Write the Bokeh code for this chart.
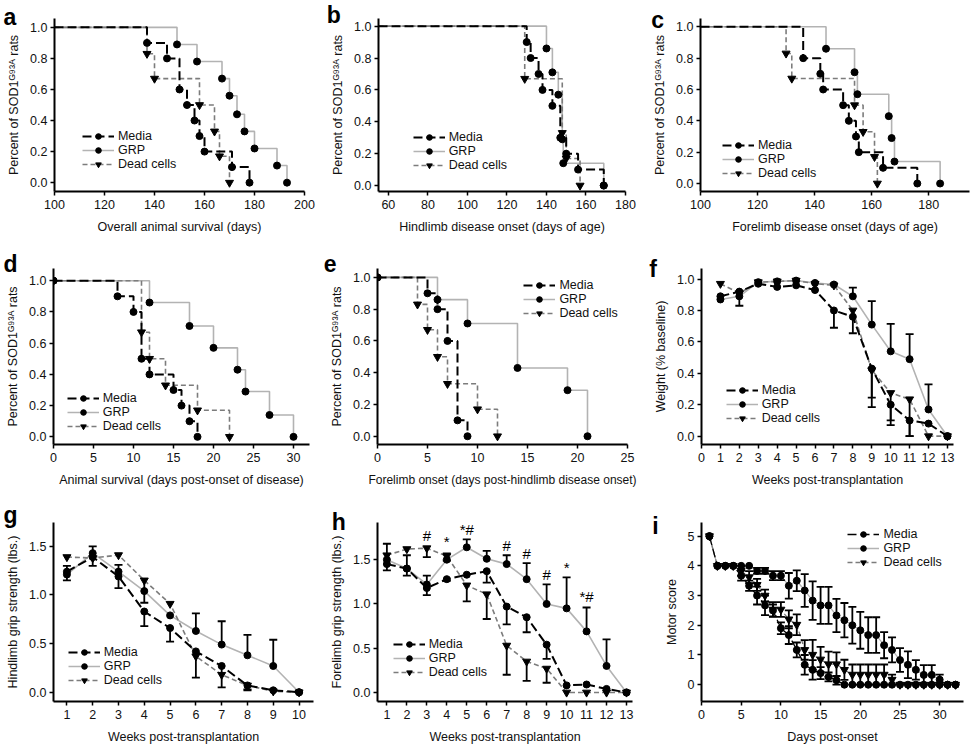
from bokeh.plotting import figure
from bokeh.models import (Range1d, FixedTicker, PrintfTickFormatter, Legend, LegendItem,
                          Whisker, TeeHead, ColumnDataSource, Title)
from bokeh.layouts import row, column
from bokeh.embed import file_html
from bokeh.resources import INLINE
from bokeh.core.properties import value

# ---------------- data ----------------
a_start = 100
a_media_t = [137, 145, 150, 153, 156, 158, 160, 171, 178]
a_media_s = [0.9, 0.8, 0.6, 0.5, 0.4, 0.3, 0.2, 0.1, 0.0]
a_grp_t = [149, 157, 167, 170, 173, 176, 180, 189, 193]
a_grp_s = [0.89, 0.78, 0.67, 0.56, 0.44, 0.33, 0.22, 0.11, 0.0]
a_dead_t = [137, 140, 158, 164, 166, 170]
a_dead_s = [0.83, 0.67, 0.5, 0.33, 0.17, 0.0]

b_start = 55
b_media_t = [130, 132, 136, 138, 143, 147, 150, 156, 169]
b_media_s = [0.9, 0.8, 0.7, 0.6, 0.5, 0.3, 0.2, 0.1, 0.0]
b_grp_t = [140, 143, 146, 148, 148.5, 169]
b_grp_s = [0.86, 0.71, 0.57, 0.29, 0.14, 0.0]
b_dead_t = [129, 148, 150, 157]
b_dead_s = [0.67, 0.33, 0.17, 0.0]

c_start = 100
c_media_t = [136, 142, 143, 150, 152, 154.5, 155.5, 164, 176]
c_media_s = [0.8, 0.7, 0.6, 0.5, 0.4, 0.3, 0.2, 0.1, 0.0]
c_grp_t = [144, 154, 155, 166, 167, 168, 184]
c_grp_s = [0.86, 0.71, 0.57, 0.43, 0.29, 0.14, 0.0]
c_dead_t = [130, 132, 154, 157, 161, 162]
c_dead_s = [0.83, 0.67, 0.5, 0.33, 0.17, 0.0]

d_start = 0
d_media_t = [8, 10, 11, 12, 15, 16, 17, 18]
d_media_s = [0.9, 0.8, 0.5, 0.4, 0.3, 0.2, 0.1, 0.0]
d_grp_t = [12, 17, 20, 23, 24, 27, 30]
d_grp_s = [0.86, 0.71, 0.57, 0.43, 0.29, 0.14, 0.0]
d_dead_t = [11, 12, 14, 18, 22]
d_dead_s = [0.67, 0.5, 0.33, 0.17, 0.0]

e_start = 0
e_media_t = [5, 6, 7, 8, 9]
e_media_s = [0.9, 0.8, 0.6, 0.1, 0.0]
e_grp_t = [6, 9, 14, 19, 21]
e_grp_s = [0.86, 0.71, 0.43, 0.29, 0.0]
e_dead_t = [4, 5, 6, 7, 10, 12]
e_dead_s = [0.83, 0.67, 0.5, 0.33, 0.17, 0.0]

f_weeks = [1, 2, 3, 4, 5, 6, 7, 8, 9, 10, 11, 12, 13]
f_media = [0.89, 0.92, 0.97, 0.95, 0.96, 0.93, 0.80, 0.76, 0.43, 0.20, 0.10, 0.08, 0.0]
f_media_err = [0, 0.09, 0, 0, 0, 0, 0.11, 0.105, 0.185, 0.10, 0.10, 0, 0]
f_grp = [0.87, 0.89, 0.98, 0.985, 0.99, 0.975, 0.965, 0.89, 0.71, 0.54, 0.49, 0.17, 0.0]
f_grp_err = [0, 0, 0, 0, 0, 0, 0, 0.055, 0.15, 0.175, 0.16, 0.16, 0]
f_dead = [0.97, 0.91, 0.98, 0.985, 0.99, 0.97, 0.96, 0.80, 0.42, 0.275, 0.235, 0.0, 0.0]
f_dead_err = [0, 0, 0, 0, 0, 0, 0, 0, 0.235, 0.205, 0.235, 0, 0]

g_weeks = [1, 2, 3, 4, 5, 6, 7, 8, 9, 10]
g_media = [1.24, 1.39, 1.19, 0.83, 0.66, 0.42, 0.27, 0.07, 0.02, 0.0]
g_media_err = [0.09, 0.09, 0.12, 0.15, 0.14, 0.27, 0.22, 0.05, 0, 0]
g_grp = [1.21, 1.43, 1.24, 1.04, 0.79, 0.63, 0.49, 0.38, 0.27, 0.0]
g_grp_err = [0.09, 0.07, 0.07, 0, 0, 0.18, 0.24, 0.21, 0.27, 0]
g_dead = [1.39, 1.38, 1.41, 1.15, 0.91, 0.37, 0.18, 0.07, 0.01, 0.0]
g_dead_err = [0, 0, 0, 0.23, 0, 0, 0, 0.04, 0, 0]

h_weeks = [1, 2, 3, 4, 5, 6, 7, 8, 9, 10, 11, 12, 13]
h_media = [1.45, 1.40, 1.18, 1.28, 1.33, 1.37, 0.97, 0.85, 0.54, 0.08, 0.09, 0.04, 0.0]
h_media_err = [0.07, 0.08, 0.08, 0.02, 0, 0.13, 0.20, 0.17, 0.16, 0, 0, 0, 0]
h_grp = [1.50, 1.40, 1.22, 1.50, 1.64, 1.51, 1.45, 1.28, 1.00, 0.95, 0.69, 0.30, 0.0]
h_grp_err = [0.18, 0.15, 0.10, 0.07, 0.09, 0.09, 0.10, 0.18, 0.22, 0.35, 0.27, 0.30, 0]
h_dead = [1.55, 1.62, 1.63, 1.54, 1.21, 1.11, 0.53, 0.35, 0.27, 0.0, 0.0, 0.0, 0.0]
h_dead_err = [0, 0, 0.10, 0.05, 0.18, 0.28, 0.33, 0.22, 0.16, 0, 0, 0, 0]
h_sig_week = [3, 4, 5, 7, 8, 9, 10, 11]
h_sig_y = [1.775, 1.70, 1.84, 1.665, 1.566, 1.33, 1.41, 1.08]
h_sig_text = ["#", "*", "*#", "#", "#", "#", "*", "*#"]

i_days = list(range(1, 33))
i_media = [5, 4, 4, 4, 3.67, 3.33, 3.0, 2.67, 2.5, 1.9, 1.67, 1.17, 0.67, 0.5, 0.39, 0.26,
           0.15, 0, 0, 0, 0, 0, 0, 0, 0, 0, 0, 0, 0, 0, 0, 0]
i_media_err = [0, 0, 0, 0, 0.17, 0.17, 0.3, 0.33, 0.2, 0.2, 0.3, 0.25, 0.33, 0.33, 0.2, 0.15,
               0.15, 0, 0, 0, 0, 0, 0, 0, 0, 0, 0, 0, 0, 0, 0, 0]
i_grp = [5, 4, 4, 4, 4, 4, 3.83, 3.83, 3.67, 3.67, 3.33, 3.5, 3.17, 2.83, 2.67, 2.67, 2.33,
         2.17, 2.0, 1.83, 1.67, 1.67, 1.33, 1.17, 0.83, 0.67, 0.5, 0.33, 0.33, 0.17, 0, 0]
i_grp_err = [0, 0, 0, 0, 0, 0, 0.1, 0.1, 0.15, 0.15, 0.43, 0.35, 0.55, 0.65, 0.62, 0.62, 0.56,
             0.58, 0.62, 0.62, 0.6, 0.6, 0.44, 0.42, 0.4, 0.45, 0.33, 0.33, 0.33, 0.17, 0, 0]
i_dead = [5, 4, 4, 4, 3.83, 3.62, 3.36, 3.0, 2.53, 2.53, 2.2, 2.02, 1.17, 1.01, 0.85, 0.69,
          0.69, 0.5, 0.34, 0.34, 0.34, 0.34, 0.34, 0.17, 0, 0, 0, 0, 0, 0, 0, 0]
i_dead_err = [0, 0, 0, 0, 0.17, 0.2, 0.2, 0.2, 0.25, 0.25, 0.3, 0.35, 0.33, 0.5, 0.42, 0.42,
              0.4, 0.34, 0.34, 0.34, 0.34, 0.34, 0.34, 0.17, 0, 0, 0, 0, 0, 0, 0, 0]

NAMES = ["Media", "GRP", "Dead cells"]
SOD_LABEL = "Percent of SOD1\u1d33\u2079\u00b3\u1d2c rats"
WEEKS_LABEL = "Weeks post-transplantation"

# ---------------- styling / layout ----------------
FONT = "Liberation Sans"
TOTAL_W = 973
TOTAL_H = 751
SX = TOTAL_W / 975
SY = TOTAL_H / 753
COLS = [0, round(320 * SX), round(645 * SX), TOTAL_W]
ROWS = [0, round(245 * SY), round(495 * SY), TOTAL_H]
LETTER_PX = 23
ST = {
    "Media": dict(color="black", width=2, dash="9 4"),
    "GRP": dict(color="#b3b3b3", width=1.6, dash="solid"),
    "Dead cells": dict(color="#7c7c7c", width=1.6, dash="5 3"),
}
MK = {"Media": "circle", "GRP": "circle", "Dead cells": "inverted_triangle"}


def mx(X):
    return X * SX


def my(Y):
    return Y * SY


def base_fig(ci, ri, frame, xr, yr, xticks, yticks, yfmt, xlabel, ylabel, letter, lpos,
             xlabel_size="12.5px"):
    L, R, T, B = frame
    x0 = COLS[ci]
    w = COLS[ci + 1] - x0
    y0 = ROWS[ri]
    h = ROWS[ri + 1] - y0
    bl = round(mx(L) - x0)
    bt = round(my(T) - y0)
    p = figure(width=w, height=h, x_range=Range1d(*xr), y_range=Range1d(*yr),
               output_backend="svg", toolbar_location=None,
               min_border_left=bl, min_border_right=round(x0 + w - mx(R)),
               min_border_top=bt, min_border_bottom=round(y0 + h - my(B)))
    p.xgrid.visible = False
    p.ygrid.visible = False
    p.outline_line_color = None
    for ax in (p.xaxis[0], p.yaxis[0]):
        ax.axis_line_width = 2
        ax.axis_line_color = "black"
        ax.major_tick_in = 0
        ax.major_tick_out = 4
        ax.major_tick_line_width = 1.5
        ax.major_tick_line_color = "black"
        ax.minor_tick_line_color = None
        ax.major_label_text_font = FONT
        ax.major_label_text_font_size = "12.5px"
        ax.major_label_text_color = "#111111"
        ax.axis_label_text_font = FONT
        ax.axis_label_text_font_size = "12.5px"
        ax.axis_label_text_font_style = "normal"
        ax.axis_label_text_color = "#111111"
    p.xaxis.axis_label_text_font_size = xlabel_size
    p.xaxis.ticker = FixedTicker(ticks=xticks)
    p.yaxis.ticker = FixedTicker(ticks=yticks)
    p.yaxis.formatter = PrintfTickFormatter(format=yfmt)
    p.xaxis.axis_label = xlabel
    p.yaxis.axis_label = ylabel
    p.xaxis.major_label_standoff = 4
    p.xaxis.axis_label_standoff = 8
    p.yaxis.major_label_standoff = 3
    p.yaxis.axis_label_standoff = 6
    # panel letter: a title anchored to the frame's top-left corner
    lx, ly = lpos
    frame_left = x0 + bl
    frame_top = y0 + bt
    desc = 0.212 * LETTER_PX
    d = my(ly) - frame_top
    t = Title(text=letter, align="left", vertical_align="bottom",
              standoff=-2 * (d + desc), offset=mx(lx) - frame_left,
              text_font=FONT, text_font_size=f"{LETTER_PX}px",
              text_font_style="bold", text_color="black")
    p.add_layout(t, "above")
    return p


def add_legend(p, frame, items, gpos):
    L, R, T, B = frame
    gx, gy = gpos
    rh = 14
    vx = mx(gx) - mx(L)
    vy = my(B) - (my(gy) - rh / 2 + 3 * rh)
    leg = Legend(items=items, location=(vx, vy), padding=0, margin=0, spacing=0,
                 glyph_width=32, glyph_height=rh, label_height=rh, label_standoff=4,
                 border_line_color=None, background_fill_alpha=0,
                 label_text_font=FONT, label_text_font_size="12.5px",
                 label_text_color="#111111")
    p.add_layout(leg)


def km(p, start, data, start_marker=False):
    rend = {}
    for name in ["GRP", "Dead cells", "Media"]:
        t, s = data[name]
        st = ST[name]
        ln = p.step([start] + list(t), [1.0] + list(s), mode="after",
                    line_color=st["color"], line_width=st["width"], line_dash=st["dash"])
        rend[name] = [ln]
    for name in ["GRP", "Dead cells", "Media"]:
        t, s = data[name]
        xs, ys = list(t), list(s)
        if start_marker and MK[name] == "circle":
            xs, ys = [start] + xs, [1.0] + ys
        sc = p.scatter(xs, ys, marker=MK[name], size=7 if MK[name] == "circle" else 8,
                       color="black")
        rend[name].append(sc)
    return [LegendItem(label=n, renderers=rend[n]) for n in NAMES]


def whiskers(p, x, y, e, direction):
    xs = [a for a, b in zip(x, e) if b > 0]
    ys = [a for a, b in zip(y, e) if b > 0]
    es = [b for b in e if b > 0]
    if not xs:
        return
    if direction == "up":
        lo, hi = ys, [a + b for a, b in zip(ys, es)]
    elif direction == "down":
        lo, hi = [a - b for a, b in zip(ys, es)], ys
    else:
        lo, hi = [a - b for a, b in zip(ys, es)], [a + b for a, b in zip(ys, es)]
    src = ColumnDataSource(dict(x=xs, lo=lo, hi=hi))
    head = lambda: TeeHead(size=8, line_width=1.8, line_color="black")
    wk = Whisker(base="x", lower="lo", upper="hi", source=src, line_color="black",
                 line_width=1.8, level="glyph",
                 upper_head=head() if direction in ("up", "both") else None,
                 lower_head=head() if direction in ("down", "both") else None)
    p.add_layout(wk)


def series_panel(p, x, data, dirs, lw=None, msize=7):
    rend = {}
    for name in ["GRP", "Dead cells", "Media"]:
        y, e = data[name]
        st = ST[name]
        ln = p.line(x, y, line_color=st["color"], line_width=lw or st["width"],
                    line_dash=st["dash"])
        rend[name] = [ln]
    for name in ["GRP", "Dead cells", "Media"]:
        y, e = data[name]
        whiskers(p, x, y, e, dirs[name])
    for name in ["GRP", "Dead cells", "Media"]:
        y, e = data[name]
        sc = p.scatter(x, y, marker=MK[name], size=msize if MK[name] == "circle" else msize + 1,
                       color="black")
        rend[name].append(sc)
    return [LegendItem(label=n, renderers=rend[n]) for n in NAMES]


PCT_TICKS = [0.0, 0.2, 0.4, 0.6, 0.8, 1.0]

fa = (54, 305, 15, 192)
pa = base_fig(0, 0, fa, (100, 200), (-0.057, 1.057), [100, 120, 140, 160, 180, 200], PCT_TICKS,
              "%.1f", "Overall animal survival (days)", SOD_LABEL, "a", (3, 22))
it = km(pa, a_start, {"Media": (a_media_t, a_media_s), "GRP": (a_grp_t, a_grp_s),
                      "Dead cells": (a_dead_t, a_dead_s)})
add_legend(pa, fa, it, (82, 137))

fb = (378.3, 626.7, 18, 191.7)
pb = base_fig(1, 0, fb, (55, 180), (-0.0375, 1.048), [60, 80, 100, 120, 140, 160, 180], PCT_TICKS,
              "%.1f", "Hindlimb disease onset (days of age)", SOD_LABEL, "b", (327, 23))
it = km(pb, b_start, {"Media": (b_media_t, b_media_s), "GRP": (b_grp_t, b_grp_s),
                      "Dead cells": (b_dead_t, b_dead_s)})
add_legend(pb, fb, it, (413, 138))

fc = (701, 971, 13, 193.3)
pc = base_fig(2, 0, fc, (100, 194.3), (-0.051, 1.053), [100, 120, 140, 160, 180], PCT_TICKS,
              "%.1f", "Forelimb disease onset (days of age)", SOD_LABEL, "c", (652, 23))
it = km(pc, c_start, {"Media": (c_media_t, c_media_s), "GRP": (c_grp_t, c_grp_s),
                      "Dead cells": (c_dead_t, c_dead_s)})
add_legend(pc, fc, it, (723, 147))

fd = (53.3, 310, 261.7, 445)
pd_ = base_fig(0, 1, fd, (0, 32), (-0.049, 1.078), [0, 5, 10, 15, 20, 25, 30], PCT_TICKS,
               "%.1f", "Animal survival (days post-onset of disease)", SOD_LABEL, "d", (3, 265))
it = km(pd_, d_start, {"Media": (d_media_t, d_media_s), "GRP": (d_grp_t, d_grp_s),
                       "Dead cells": (d_dead_t, d_dead_s)}, start_marker=True)
add_legend(pd_, fd, it, (67, 399))

fe = (377.3, 628.3, 268.3, 446)
pe = base_fig(1, 1, fe, (0, 25), (-0.052, 1.056), [0, 5, 10, 15, 20, 25], PCT_TICKS,
              "%.1f", "Forelimb onset (days post-hindlimb disease onset)", SOD_LABEL, "e",
              (324, 267), xlabel_size="12px")
it = km(pe, e_start, {"Media": (e_media_t, e_media_s), "GRP": (e_grp_t, e_grp_s),
                      "Dead cells": (e_dead_t, e_dead_s)}, start_marker=True)
add_legend(pe, fe, it, (524, 287))

ff = (702.3, 955, 263.3, 446)
pf = base_fig(2, 1, ff, (0, 13.32), (-0.053, 1.067), list(range(0, 14)), PCT_TICKS,
              "%.1f", WEEKS_LABEL, "Weight (% baseline)", "f", (650, 272))
it = series_panel(pf, f_weeks, {"Media": (f_media, f_media_err), "GRP": (f_grp, f_grp_err),
                                "Dead cells": (f_dead, f_dead_err)},
                  {"Media": "down", "GRP": "up", "Dead cells": "down"})
add_legend(pf, ff, it, (727, 392))

fg = (53.3, 313.3, 523.3, 703.3)
pg = base_fig(0, 2, fg, (0.48, 10.56), (-0.095, 1.745), list(range(1, 11)), [0.0, 0.5, 1.0, 1.5],
              "%.1f", WEEKS_LABEL, "Hindlimb grip strength (lbs.)", "g", (3, 524))
it = series_panel(pg, g_weeks, {"Media": (g_media, g_media_err), "GRP": (g_grp, g_grp_err),
                                "Dead cells": (g_dead, g_dead_err)},
                  {"Media": "down", "GRP": "up", "Dead cells": "down"})
add_legend(pg, fg, it, (68, 654))

fh = (377.3, 633.3, 520, 704.3)
ph = base_fig(1, 2, fh, (0.53, 13.3), (-0.102, 1.92), list(range(1, 14)), [0.0, 0.5, 1.0, 1.5],
              "%.1f", WEEKS_LABEL, "Forelimb grip strength (lbs.)", "h", (332, 528))
it = series_panel(ph, h_weeks, {"Media": (h_media, h_media_err), "GRP": (h_grp, h_grp_err),
                                "Dead cells": (h_dead, h_dead_err)},
                  {"Media": "down", "GRP": "up", "Dead cells": "down"})
ph.text(x=h_sig_week, y=h_sig_y, text=h_sig_text, text_align="center", text_baseline="middle",
        text_font=value(FONT), text_font_size="15px", text_color="black")
add_legend(ph, fh, it, (393, 647))

fi = (702.3, 965, 516.7, 705)
pi = base_fig(2, 2, fi, (0, 33.0), (-0.566, 5.46), [0, 5, 10, 15, 20, 25, 30], [0, 1, 2, 3, 4, 5],
              "%d", "Days post-onset", "Motor score", "i", (653, 528))
it = series_panel(pi, i_days, {"Media": (i_media, i_media_err), "GRP": (i_grp, i_grp_err),
                               "Dead cells": (i_dead, i_dead_err)},
                  {"Media": "both", "GRP": "both", "Dead cells": "both"}, lw=1.3, msize=7)
add_legend(pi, fi, it, (849, 538))

layout = column(row(pa, pb, pc), row(pd_, pe, pf), row(pg, ph, pi))
open("out.html", "w").write(file_html(layout, INLINE))
